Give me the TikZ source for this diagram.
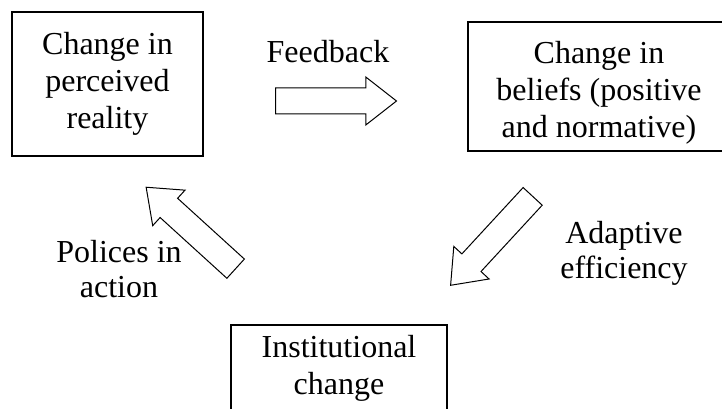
\documentclass[tikz,border=0pt]{standalone}
\usepackage{fontspec}
\setmainfont{Liberation Serif}
\usetikzlibrary{shapes.arrows}

\begin{document}
\begin{tikzpicture}[x=1pt, y=-1pt,
    box/.style={draw, line width=1.3pt, rectangle, align=center, inner sep=0pt, font=\fontsize{32}{37}\selectfont},
    bigarrow/.style={draw, line width=1pt, single arrow, single arrow head extend=11pt, single arrow tip angle=76, minimum height=121pt, inner sep=12.5pt, anchor=tail},
    lbl/.style={align=center, inner sep=0pt, font=\fontsize{32}{35}\selectfont}]
    \useasboundingbox (0,0) rectangle (722,409);
    \node[box, minimum width=191pt, minimum height=144pt] (reality) at (107.5,84) {Change in\\perceived\\reality};
    \node[box, minimum width=262pt, minimum height=129pt] (beliefs) at (599,86.5) {\rule{0pt}{34pt}Change in\\beliefs (positive\\and normative)};
    \node[box, minimum width=216pt, minimum height=86pt] (inst) at (339,368) {Institutional\\change};
    \node[bigarrow] (feedback) at (275,101) {};
    \node[bigarrow, rotate=227.3] (adaptive) at (533,196) {};
    \node[bigarrow, rotate=137.7] (polices) at (236,269) {};
    \node[lbl, anchor=base] (feedbacklbl) at (328,63) {Feedback};
    \node[lbl, anchor=north] (adaptivelbl) at (624,221) {Adaptive\\efficiency};
    \node[lbl, anchor=north] (policeslbl) at (119,240) {Polices in\\action};
\end{tikzpicture}
\end{document}
